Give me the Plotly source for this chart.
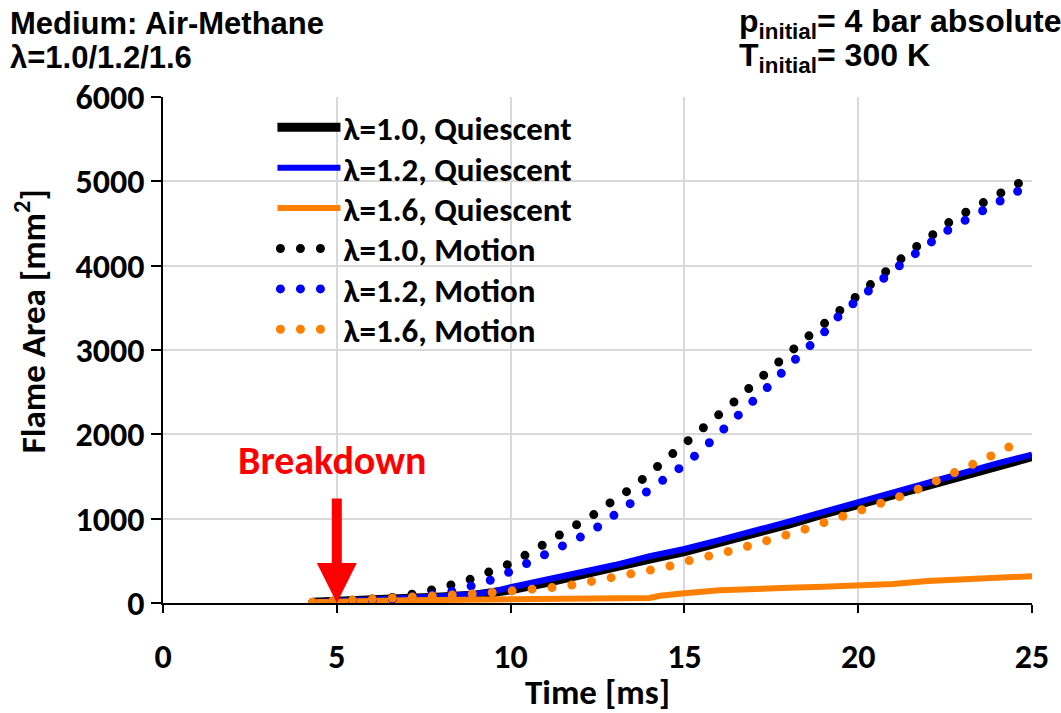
import plotly.graph_objects as go

# ---------------- data ----------------
t_q10 = [4.3, 5, 6, 7, 8, 9, 9.5, 10, 11, 12, 13, 14, 15, 16, 17, 18, 19, 20, 21, 22, 23, 24, 25]
a_q10 = [8, 16, 30, 48, 70, 95, 118, 155, 240, 325, 420, 520, 610, 712, 818, 935, 1055, 1170, 1282, 1410, 1525, 1630, 1735]

t_q12 = [4.3, 5, 6, 7, 8, 9, 9.5, 10, 11, 12, 13, 14, 15, 16, 17, 18, 19, 20, 21, 22, 23, 24, 25]
a_q12 = [10, 20, 35, 55, 80, 110, 135, 187, 270, 350, 450, 555, 640, 745, 850, 965, 1080, 1195, 1310, 1440, 1550, 1655, 1760]

t_q16 = [4.3, 5, 6, 7, 8, 9, 10, 11, 12, 13, 13.5, 14, 14.3, 14.6, 15, 16, 17, 18, 19, 20, 21, 22, 23, 24, 25]
a_q16 = [10, 20, 28, 33, 37, 40, 42, 43, 44, 46, 50, 60, 85, 105, 115, 150, 170, 180, 192, 206, 225, 260, 275, 295, 318]

t_m10 = [4.3, 5, 5.5, 6, 6.5, 7, 7.5, 8, 8.5, 9, 9.5, 10, 10.5, 11, 11.5, 12, 12.5, 13, 13.5, 14, 14.5,
         15, 15.5, 16, 16.5, 17, 17.5, 18, 18.5, 19, 19.5, 20, 20.5, 21, 21.5, 22, 22.5, 23, 23.5, 24, 24.5, 25]
a_m10 = [5, 15, 25, 40, 60, 90, 130, 180, 240, 300, 390, 470, 585, 700, 825, 945, 1075, 1230, 1365, 1540, 1710,
         1880, 2040, 2220, 2410, 2600, 2790, 2980, 3140, 3305, 3485, 3665, 3850, 4015, 4175, 4320, 4484, 4612, 4735, 4855, 4952, 5060]

t_m12 = [4.3, 5, 5.5, 6, 6.5, 7, 7.5, 8, 8.5, 9, 9.5, 10, 10.5, 11, 11.5, 12, 12.5, 13, 13.5, 14, 14.5,
         15, 15.5, 16, 16.5, 17, 17.5, 18, 18.5, 19, 19.5, 20, 20.5, 21, 21.5, 22, 22.5, 23, 23.5, 24, 24.5, 25]
a_m12 = [5, 12, 20, 30, 45, 65, 85, 110, 155, 215, 280, 375, 472, 580, 672, 780, 900, 1050, 1190, 1325, 1475,
         1640, 1815, 2010, 2195, 2380, 2600, 2815, 3005, 3200, 3430, 3610, 3765, 3940, 4099, 4265, 4400, 4520, 4628, 4740, 4855, 4975]

t_m16 = [4.3, 5, 6, 7, 8, 8.5, 9, 9.5, 10, 10.5, 11, 11.5, 12, 12.5, 13, 13.5, 14, 14.5, 15, 15.5, 16, 16.5,
         17, 17.5, 18, 18.5, 19, 19.5, 20, 20.5, 21, 21.5, 22, 22.5, 23, 23.5, 24, 24.5, 24.75]
a_m16 = [10, 22, 40, 55, 75, 88, 110, 125, 138, 155, 170, 195, 230, 270, 310, 338, 375, 428, 490, 527, 585, 635,
         688, 755, 815, 880, 945, 1030, 1085, 1155, 1232, 1308, 1400, 1482, 1575, 1678, 1777, 1885, 1935]

series_names = ["λ=1.0, Quiescent", "λ=1.2, Quiescent", "λ=1.6, Quiescent",
                "λ=1.0, Motion", "λ=1.2, Motion", "λ=1.6, Motion"]

x_ticks = [0, 5, 10, 15, 20, 25]
y_ticks = [0, 1000, 2000, 3000, 4000, 5000, 6000]

breakdown_time = 5
breakdown_area = 0

# ---------------- styling ----------------
BLACK = "#000000"
BLUE = "#0000FF"
ORANGE = "#FF8000"
DOT = "0px,20px"
CAL = "Calibri, Carlito, Lato, sans-serif"
ARIAL = "Arial, Liberation Sans, sans-serif"

fig = go.Figure()
specs = [
    (t_q10, a_q10, BLACK, 9, "solid"),
    (t_q12, a_q12, BLUE, 6, "solid"),
    (t_q16, a_q16, ORANGE, 6, "solid"),
    (t_m10, a_m10, BLACK, 9, DOT),
    (t_m12, a_m12, BLUE, 9, DOT),
    (t_m16, a_m16, ORANGE, 9, DOT),
]
for (tx, ay, col, w, dash), name in zip(specs, series_names):
    fig.add_trace(go.Scatter(x=tx, y=ay, mode="lines", name=name,
                             line=dict(color=col, width=w, dash=dash)))

fig.update_layout(
    width=1061, height=713,
    margin=dict(l=162.5, r=29.3, t=97, b=100.3),
    paper_bgcolor="white", plot_bgcolor="white",
    showlegend=True,
    legend=dict(x=0.1616, y=0.9954, xanchor="left", yanchor="top",
                bgcolor="rgba(0,0,0,0)", borderwidth=0,
                font=dict(family=CAL, size=33, color="black", weight="bold"),
                tracegroupgap=0),
    xaxis=dict(range=[0, 25], tickvals=x_ticks, showgrid=True, gridcolor="#D9D9D9", gridwidth=2,
               showline=True, linecolor="black", linewidth=1.5, ticks="outside", ticklen=8,
               tickwidth=1.5, tickcolor="black", zeroline=False,
               tickfont=dict(family=CAL, size=34, color="black", weight="bold"),
               ticklabelstandoff=14,
               title=dict(text="Time [ms]", font=dict(family=CAL, size=35, color="black", weight="bold"),
                          standoff=0)),
    yaxis=dict(range=[0, 6000], tickvals=y_ticks, showgrid=True, gridcolor="#D9D9D9", gridwidth=2,
               showline=True, linecolor="black", linewidth=1.5, ticks="outside", ticklen=10,
               tickwidth=1.5, tickcolor="black", zeroline=False,
               tickfont=dict(family=CAL, size=34, color="black", weight="bold"),
               ticklabelstandoff=0),
)

def px_x(p):
    return (p - 162.5) / 869.2

def px_y(p):
    return (612.7 - p) / 515.7

ann = []
ann.append(dict(text="Flame Area [mm<sup>2</sup>]", textangle=-90, xref="paper", yref="paper",
                x=px_x(30), y=px_y(326), xanchor="center", yanchor="middle", showarrow=False,
                font=dict(family=CAL, size=35, color="black", weight="bold")))
ann.append(dict(text="Medium: Air-Methane", xref="paper", yref="paper", x=px_x(7), y=px_y(22),
                xanchor="left", yanchor="middle", showarrow=False,
                font=dict(family=ARIAL, size=31, color="black", weight="bold")))
ann.append(dict(text="λ=1.0/1.2/1.6", xref="paper", yref="paper", x=px_x(7), y=px_y(57),
                xanchor="left", yanchor="middle", showarrow=False,
                font=dict(family=ARIAL, size=31, color="black", weight="bold")))
ann.append(dict(text="p<sub>initial</sub>= 4 bar absolute", xref="paper", yref="paper", x=px_x(737), y=px_y(22),
                xanchor="left", yanchor="middle", showarrow=False,
                font=dict(family=ARIAL, size=32, color="black", weight="bold")))
ann.append(dict(text="T<sub>initial</sub>= 300 K", xref="paper", yref="paper", x=px_x(737), y=px_y(57),
                xanchor="left", yanchor="middle", showarrow=False,
                font=dict(family=ARIAL, size=32, color="black", weight="bold")))
ann.append(dict(text="Breakdown", xref="x", yref="y", x=4.87, y=1695, xanchor="center", yanchor="middle",
                showarrow=False, font=dict(family=CAL, size=40, color="#FF0000", weight="bold")))
ann.append(dict(text="", xref="x", yref="y", x=breakdown_time, y=breakdown_area, showarrow=True,
                axref="pixel", ayref="pixel", ax=0, ay=-106, arrowhead=2, arrowsize=0.8,
                arrowwidth=10, arrowcolor="#FF0000", standoff=0))
fig.update_layout(annotations=ann)

post = r"""
(function(){
  var gd = document.getElementById('{plot_id}');
  function isDot(p){
    var da = p.style.strokeDasharray || p.getAttribute('stroke-dasharray') || '';
    return da.indexOf('0px') === 0 || da.indexOf('0,') === 0 || da.indexOf('0 ') === 0;
  }
  function fix(){
    gd.querySelectorAll('path.js-line').forEach(function(p){
      if (isDot(p)) { p.style.strokeLinecap = 'round'; }
    });
    gd.querySelectorAll('.legend .legendlines path').forEach(function(p){
      var d = isDot(p);
      p.setAttribute('d', d ? 'M-23,0h41' : 'M-26,0h63');
      p.style.strokeLinecap = d ? 'round' : 'butt';
    });
    gd.querySelectorAll('.legend .scrollbox, .legend').forEach(function(e){ e.removeAttribute('clip-path'); });
    var y0 = null;
    gd.querySelectorAll('.legend g.traces').forEach(function(g, i){
      var tr = g.getAttribute('transform') || '';
      var m = /translate\(\s*([-\d.e]+)[\s,]+([-\d.e]+)\s*\)/.exec(tr);
      if (!m) return;
      if (y0 === null) y0 = parseFloat(m[2]);
      g.setAttribute('transform', 'translate(' + m[1] + ',' + (y0 + i * 40.4) + ')');
    });
  }
  fix();
})();
"""

fig.write_html("out.html", post_script=post)
